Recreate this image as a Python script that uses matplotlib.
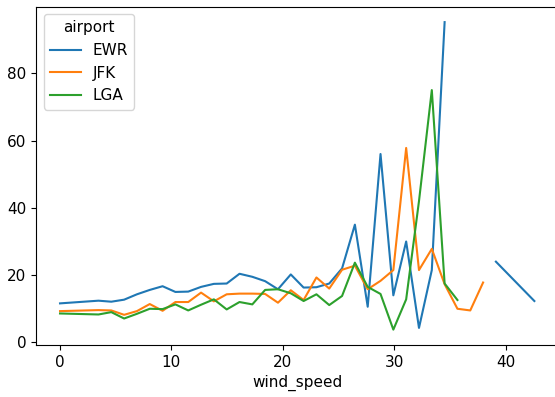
import matplotlib
matplotlib.use("Agg")
import matplotlib.pyplot as plt
import numpy as np
import pandas as pd

plt.rcParams['font.size'] = 11

# wind speed values (mph) present in the grouped data
wind_speed = [0.0, 3.452, 4.603, 5.754, 6.905, 8.055, 9.206, 10.357, 11.508,
              12.659, 13.809, 14.960, 16.111, 17.262, 18.412, 19.563, 20.714,
              21.865, 23.016, 24.166, 25.317, 26.468, 27.619, 28.769, 29.920,
              31.071, 32.222, 33.373, 34.523, 35.674, 36.825, 37.976, 39.127,
              42.579]

nan = np.nan
ewr = [11.6, 12.4, 12.1, 12.7, 14.3, 15.6, 16.7, 15.0, 15.1, 16.5, 17.4,
       17.5, 20.4, 19.5, 18.2, 15.8, 20.2, 16.3, 16.4, 17.5, 22.0, 35.0,
       10.6, 56.0, 14.0, 30.0, 4.3, 21.5, 95.2, nan, nan, nan, 24.0, 12.3]
jfk = [9.3, 9.6, 9.5, 8.2, 9.3, 11.4, 9.4, 12.0, 12.0, 14.8, 12.2, 14.3,
       14.5, 14.5, 14.4, 11.8, 15.5, 12.6, 19.3, 16.0, 21.6, 22.8, 15.8,
       18.3, 21.5, 57.8, 21.5, 27.8, 17.3, 10.0, 9.5, 17.8, nan, nan]
lga = [8.6, 8.3, 9.0, 7.1, 8.5, 10.0, 9.9, 11.3, 9.5, 11.2, 12.8, 9.8,
       12.0, 11.3, 15.6, 15.8, 14.6, 12.3, 14.3, 11.1, 13.8, 23.7, 16.5,
       14.4, 3.8, 12.8, 42.0, 75.0, 17.5, 12.6, nan, nan, nan, nan]

df = pd.DataFrame({'EWR': ewr, 'JFK': jfk, 'LGA': lga},
                  index=pd.Index(wind_speed, name='wind_speed'))
df.columns.name = 'airport'

fig = plt.figure(figsize=(5.55, 3.97), dpi=100)
ax = fig.add_axes([0.0654, 0.131, 0.9402, 0.852])
df.plot(ax=ax)
ax.set_xlim(-2.13, 44.71)
ax.legend(title='airport', loc='upper left')

fig.savefig('out.png', dpi=100)
